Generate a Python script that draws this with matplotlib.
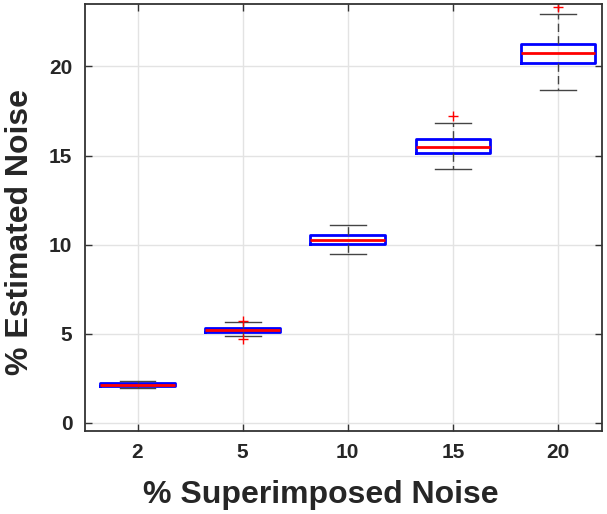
import matplotlib.pyplot as plt

plt.rcParams['font.family'] = ['Liberation Sans', 'DejaVu Sans']

# superimposed noise levels (%)
labels = ["2", "5", "10", "15", "20"]
# box statistics
medians = [2.12, 5.20, 10.29, 15.46, 20.73]
q1 = [2.07, 5.08, 10.05, 15.14, 20.22]
q3 = [2.24, 5.34, 10.53, 15.91, 21.29]
whislo = [1.98, 4.87, 9.50, 14.24, 18.66]
whishi = [2.37, 5.64, 11.13, 16.81, 22.97]
fliers = [[], [5.73, 4.69], [], [17.2], [23.35]]

stats = []
for i, lab in enumerate(labels):
    stats.append(dict(label=lab, med=medians[i], q1=q1[i], q3=q3[i],
                      whislo=whislo[i], whishi=whishi[i], fliers=fliers[i]))

fig = plt.figure(figsize=(6.07, 5.14), dpi=100)
ax = fig.add_axes([0.14, 0.1615, 0.852, 0.8305])

ax.grid(True, color="#e3e3e3", linewidth=1.0, zorder=0)
ax.set_axisbelow(True)

ax.bxp(
    stats,
    widths=0.71,
    boxprops=dict(color="#0000ff", linewidth=2.0, solid_joinstyle="round"),
    medianprops=dict(color="#ff0000", linewidth=2.0),
    whiskerprops=dict(color="#444444", linewidth=1.0, linestyle=(0, (6, 3))),
    capprops=dict(color="#444444", linewidth=1.0),
    capwidths=0.34,
    flierprops=dict(marker="+", markeredgecolor="#ff0000", markersize=7,
                    markeredgewidth=1.0, linestyle="none"),
)

ax.set_xlim(0.5, 5.42)
ax.set_ylim(-0.45, 23.5)
ax.set_yticks([0, 5, 10, 15, 20])

for s in ax.spines.values():
    s.set_color("#333333")
    s.set_linewidth(1.3)

ax.tick_params(direction="in", length=5, width=1.0, color="#333333",
               top=True, right=True, labelsize=15, pad=9)
for t in ax.get_xticklabels() + ax.get_yticklabels():
    t.set_fontweight("bold")
    t.set_color("#262626")

ax.set_xlabel("% Superimposed Noise", fontsize=23, fontweight="bold",
              color="#262626")
ax.set_ylabel("% Estimated Noise", fontsize=23, fontweight="bold",
              color="#262626")
# original figure was cropped on top/right, so labels sit off-centre
ax.xaxis.set_label_coords(0.456, -0.115)
ax.yaxis.set_label_coords(-0.096, 0.466)

fig.savefig("out.png", dpi=100)
